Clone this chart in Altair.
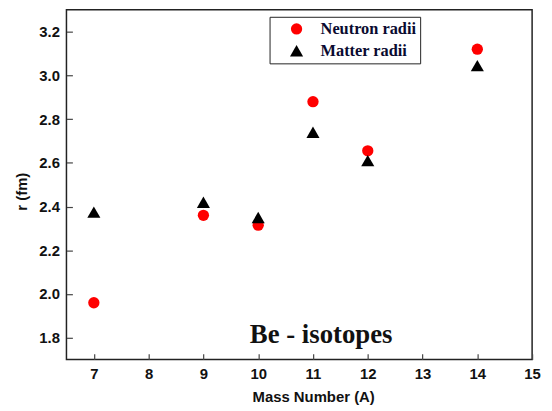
import altair as alt
import pandas as pd

mass = [7, 9, 10, 11, 12, 14]
neutron_radii = [1.96, 2.36, 2.315, 2.88, 2.655, 3.12]
matter_radii = [2.375, 2.42, 2.35, 2.74, 2.61, 3.045]
series_names = ["Neutron radii", "Matter radii"]
x_ticks = [7, 8, 9, 10, 11, 12, 13, 14, 15]
y_ticks = [1.8, 2.0, 2.2, 2.4, 2.6, 2.8, 3.0, 3.2]

rows = []
for a, n in zip(mass, neutron_radii):
    rows.append({"A": a, "r": n, "series": series_names[0]})
for a, m in zip(mass, matter_radii):
    rows.append({"A": a, "r": m, "series": series_names[1]})
df = pd.DataFrame(rows)

axis_common = dict(
    offset=-6, tickSize=6, domain=False, grid=False,
    labelFont="Liberation Sans", labelFontWeight="bold", labelFontSize=15,
    labelColor="#111", tickColor="#444", tickWidth=1.2,
    titleFont="Liberation Sans", titleFontWeight="bold", titleFontSize=15,
    titleColor="#111",
)

points = alt.Chart(df).mark_point(filled=True, opacity=1, strokeWidth=0).encode(
    x=alt.X("A:Q", scale=alt.Scale(domain=[6.5, 15], nice=False, zero=False),
            axis=alt.Axis(values=x_ticks, title="Mass Number (A)", labelPadding=7,
                          titlePadding=8, titleX=249, labelFlush=False, **axis_common)),
    y=alt.Y("r:Q", scale=alt.Scale(domain=[1.7, 3.3], nice=False, zero=False),
            axis=alt.Axis(values=y_ticks, format=".1f", title="r (fm)", labelPadding=7,
                          titlePadding=9, titleY=183, labelFlush=False, **axis_common)),
    color=alt.Color("series:N", scale=alt.Scale(domain=series_names, range=["#ff0000", "#000000"]),
                    legend=alt.Legend(
                        title=None, orient="none", legendX=205, legendY=7,
                        strokeColor="#222", padding=4, fillColor="white",
                        symbolOffset=15, labelOffset=16, rowPadding=5,
                        labelFont="Liberation Serif", labelFontWeight="bold",
                        labelFontSize=16.5, labelColor="#0a0a30", symbolSize=130,
                        symbolStrokeWidth=0)),
    shape=alt.Shape("series:N", scale=alt.Scale(domain=series_names, range=["circle", "triangle-up"]),
                    legend=None),
    size=alt.Size("series:N", scale=alt.Scale(domain=series_names, range=[130, 175]), legend=None),
)

label = alt.Chart(pd.DataFrame({"t": ["Be - isotopes"]})).mark_text(
    font="Liberation Serif", fontWeight="bold", fontSize=27, color="#111",
    baseline="alphabetic", align="center"
).encode(x=alt.datum(11.15), y=alt.datum(1.775), text="t:N")

chart = alt.layer(points, label).properties(
    width=470, height=353,
    padding={"left": 59, "top": 0, "right": 12, "bottom": 50},
    autosize="none",
    background="white",
).configure_view(stroke="#222", strokeWidth=1.5)

chart.save("out.html", embed_options={"renderer": "svg", "actions": False})
